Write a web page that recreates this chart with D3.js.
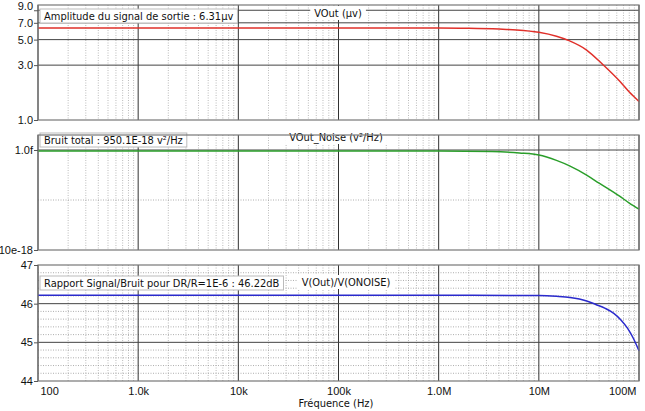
<!DOCTYPE html>
<html>
<head>
<meta charset="utf-8">
<script src="https://cdn.jsdelivr.net/npm/d3@7"></script>
<style>
  body { margin: 0; background: #fff; }
  svg { display: block; font-family: "DejaVu Sans Condensed", "DejaVu Sans", sans-serif; }
  .tick text { font-size: 11px; fill: #111; }
  .domain { display: none; }
</style>
</head>
<body>
<svg id="chart" width="645" height="411"></svg>
<script>
// frequencies (Hz) sampled along the curves
const freqs = [100, 1e3, 1e4, 1e5, 1e6, 2e6, 4e6, 6e6, 1e7, 1.5e7, 2e7, 3e7, 4.4e7, 6.5e7, 8e7, 1e8];

// output amplitude (µV)
const vout = [6.31, 6.31, 6.31, 6.31, 6.31, 6.27, 6.17, 6.07, 5.79, 5.35, 4.90, 4.06, 3.01, 2.15, 1.75, 1.45];

// output noise (V²/Hz)
const noiseFreqs = [100, 1e3, 1e4, 1e5, 1e6, 3.4e6, 6.4e6, 1e7, 1.5e7, 2.05e7, 3e7, 4e7, 6.4e7, 8e7, 1e8];
const vnoise = [950.1e-18, 950.1e-18, 950.1e-18, 950.1e-18, 950.1e-18, 930e-18, 870e-18, 794e-18, 619e-18, 476e-18, 315e-18, 217e-18, 119e-18, 87e-18, 66e-18];

// signal/noise ratio (dB)
const snrFreqs = [100, 1e3, 1e4, 1e5, 1e6, 1e7, 1.5e7, 2.05e7, 3e7, 3.7e7, 4.6e7, 5.6e7, 6.6e7, 7.7e7, 8.8e7, 1e8];
const snr = [46.22, 46.22, 46.22, 46.22, 46.22, 46.21, 46.19, 46.16, 46.07, 45.98, 45.88, 45.75, 45.58, 45.36, 45.10, 44.78];

const xTicks = [100, 1e3, 1e4, 1e5, 1e6, 1e7, 1e8];
const xTickLabels = ["100", "1.0k", "10k", "100k", "1.0M", "10M", "100M"];

const voutTicks = [1, 3, 5, 7, 9];
const voutTickLabels = ["1.0", "3.0", "5.0", "7.0", "9.0"];
const noiseTicks = [1e-17, 1e-15];
const noiseTickLabels = ["10e-18", "1.0f"];
const snrTicks = [44, 45, 46, 47];
const snrTickLabels = ["44", "45", "46", "47"];

const LEFT = 38, RIGHT = 639;
const svg = d3.select('#chart');

const xScale = d3.scaleLog()
    .domain([100, 1e8])
    .range([LEFT, RIGHT]);

// minor decade ticks 2..9
const minorX = [];
for (let d = 100; d < 1e8; d *= 10) {
    for (let k = 2; k <= 9; k++) minorX.push(d * k);
}

function drawPanel(cfg) {
    const g = svg.append('g');
    const y = cfg.yScale;
    const [bottom, top] = y.range();

    // minor vertical grid
    g.selectAll('.vminor')
        .data(minorX)
        .join('line')
        .attr('x1', d => xScale(d)).attr('x2', d => xScale(d))
        .attr('y1', top).attr('y2', bottom)
        .attr('stroke', '#aaa')
        .attr('stroke-width', 0.8)
        .attr('stroke-dasharray', '1,1.5');

    // minor horizontal grid
    g.selectAll('.hminor')
        .data(cfg.minorY)
        .join('line')
        .attr('x1', LEFT).attr('x2', RIGHT)
        .attr('y1', d => y(d)).attr('y2', d => y(d))
        .attr('stroke', '#999')
        .attr('stroke-width', 0.8)
        .attr('stroke-dasharray', '1,1.5');

    // major vertical grid
    g.selectAll('.vmajor')
        .data(xTicks)
        .join('line')
        .attr('x1', d => xScale(d)).attr('x2', d => xScale(d))
        .attr('y1', top).attr('y2', bottom)
        .attr('stroke', '#333')
        .attr('stroke-width', 1);

    // major horizontal grid
    g.selectAll('.hmajor')
        .data(cfg.gridY)
        .join('line')
        .attr('x1', LEFT).attr('x2', RIGHT)
        .attr('y1', d => y(d)).attr('y2', d => y(d))
        .attr('stroke', '#444')
        .attr('stroke-width', 1);

    // label boxes (drawn over the grid)
    const lbl = g.append('g');
    cfg.labels.forEach(l => {
        const t = lbl.append('text')
            .attr('x', l.x)
            .attr('y', l.y)
            .attr('text-anchor', l.anchor || 'start')
            .attr('font-size', 11)
            .attr('fill', '#111')
            .text(l.text);
        const bb = t.node().getBBox();
        lbl.insert('rect', 'text')
            .attr('x', bb.x - 4).attr('y', bb.y - 1)
            .attr('width', bb.width + 8).attr('height', bb.height + 1)
            .attr('fill', '#fff')
            .attr('stroke', l.border ? '#bbb' : 'none');
    });

    // curve
    const line = d3.line()
        .x(d => xScale(d[0]))
        .y(d => y(d[1]))
        .curve(d3.curveMonotoneX);
    g.append('path')
        .datum(cfg.xs.map((f, i) => [f, cfg.values[i]]))
        .attr('d', line)
        .attr('fill', 'none')
        .attr('stroke', cfg.color)
        .attr('stroke-width', 1.5);

    // frame
    g.append('rect')
        .attr('x', LEFT).attr('y', top)
        .attr('width', RIGHT - LEFT).attr('height', bottom - top)
        .attr('fill', 'none')
        .attr('stroke', '#777')
        .attr('stroke-width', 1.2);

    // y axis
    const yAxis = d3.axisLeft(y)
        .tickValues(cfg.ticks)
        .tickSize(4)
        .tickPadding(1)
        .tickFormat((d, i) => cfg.tickLabels[i]);
    g.append('g')
        .attr('transform', `translate(${LEFT}, 0)`)
        .call(yAxis)
        .call(s => s.selectAll('.tick line').attr('stroke', '#555'));

    return g;
}

// Panel 1 : VOut
const p1 = drawPanel({
    yScale: d3.scaleLog().domain([1, 10]).range([120, 5]),
    ticks: voutTicks, tickLabels: voutTickLabels,
    gridY: [3, 5, 7, 9], minorY: [],
    xs: freqs, values: vout, color: '#e0302a',
    labels: [
        {text: 'Amplitude du signal de sortie : 6.31µv', x: 44, y: 20, border: true},
        {text: 'VOut (µv)', x: 338, y: 17, anchor: 'middle'}
    ]
});
// lift the 9.0 label so it does not collide with 7.0
p1.selectAll('.tick').filter(d => d === 9).select('text').attr('dy', '-0.05em');

// Panel 2 : noise
const p2 = drawPanel({
    yScale: d3.scaleLog().domain([1e-17, Math.pow(10, -14.7)]).range([250, 135]),
    ticks: noiseTicks, tickLabels: noiseTickLabels,
    gridY: [1e-15], minorY: [1e-16],
    xs: noiseFreqs, values: vnoise, color: '#2a9e2a',
    labels: [
        {text: 'Bruit total : 950.1E-18 v²/Hz', x: 44, y: 144, border: true},
        {text: 'VOut_Noise (v²/Hz)', x: 336, y: 141, anchor: 'middle'}
    ]
});
p2.selectAll('.tick text').attr('font-size', 10.5);

// Panel 3 : signal/noise
drawPanel({
    yScale: d3.scaleLinear().domain([44, 47]).range([381, 265]),
    ticks: snrTicks, tickLabels: snrTickLabels,
    gridY: [45, 46], minorY: d3.range(44.2, 47, 0.2).filter(v => Math.abs(v - Math.round(v)) > 0.05),
    xs: snrFreqs, values: snr, color: '#2a2acc',
    labels: [
        {text: 'Rapport Signal/Bruit pour DR/R=1E-6 : 46.22dB', x: 44, y: 287, border: true},
        {text: 'V(Out)/V(ONOISE)', x: 346, y: 286, anchor: 'middle'}
    ]
});

// x axis labels under the last panel
const xAxis = d3.axisBottom(xScale)
    .tickValues(xTicks)
    .tickSize(0)
    .tickPadding(6)
    .tickFormat((d, i) => xTickLabels[i]);
const xg = svg.append('g')
    .attr('transform', 'translate(0, 381)')
    .call(xAxis);
xg.selectAll('.tick text')
    .attr('text-anchor', (d, i) => i === 0 ? 'start' : (i === xTicks.length - 1 ? 'end' : 'middle'))
    .attr('x', (d, i) => i === 0 ? 2 : (i === xTicks.length - 1 ? -3 : 0));

svg.append('text')
    .attr('x', 336)
    .attr('y', 407)
    .attr('text-anchor', 'middle')
    .attr('font-size', 11)
    .attr('fill', '#111')
    .text('Fréquence (Hz)');
</script>
</body>
</html>
